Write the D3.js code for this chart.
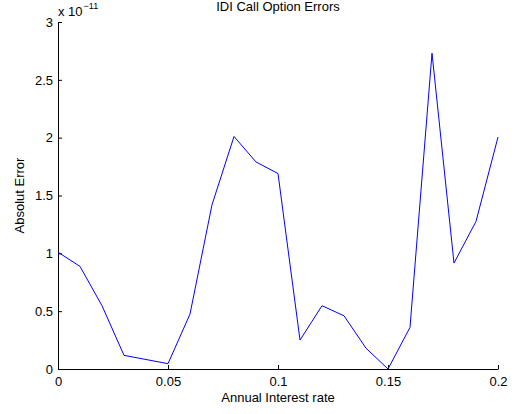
<!DOCTYPE html>
<html>
<head>
<meta charset="utf-8">
<script src="https://cdn.jsdelivr.net/npm/d3@7"></script>
<style>
  body { margin: 0; background: #fff; }
  text { font-family: "Liberation Sans", Arial, sans-serif; fill: #000; }
</style>
</head>
<body>
<script>
// interest rates and absolute errors (units of 1e-11)
const rates = [0, 0.01, 0.02, 0.03, 0.04, 0.05, 0.06, 0.07, 0.08, 0.09, 0.1,
               0.11, 0.12, 0.13, 0.14, 0.15, 0.16, 0.17, 0.18, 0.19, 0.2];
const errors = [1.01, 0.887, 0.547, 0.118, 0.082, 0.046, 0.475, 1.42, 2.01, 1.79, 1.69,
                0.25, 0.547, 0.46, 0.18, 0.0, 0.36, 2.73, 0.916, 1.276, 2.005];
const xTicks = [0, 0.05, 0.1, 0.15, 0.2];
const yTicks = [0, 0.5, 1, 1.5, 2, 2.5, 3];

const width = 516, height = 414;
const margin = {left: 58, right: 18, top: 22, bottom: 45};
const fs = 13;

const svg = d3.select("body").append("svg")
  .attr("width", width)
  .attr("height", height);

const x = d3.scaleLinear().domain([0, 0.2]).range([margin.left, width - margin.right]);
const y = d3.scaleLinear().domain([0, 3]).range([height - margin.bottom, margin.top]);

// x axis
const xAxis = svg.append("g")
  .attr("transform", `translate(0,${height - margin.bottom})`)
  .call(d3.axisBottom(x).tickValues(xTicks).tickSizeInner(-4).tickSizeOuter(0).tickPadding(8)
    .tickFormat(d => d3.format("")(d)));
xAxis.select(".domain").attr("stroke", "#000");
xAxis.selectAll("text").attr("font-size", fs);

// y axis
const yAxis = svg.append("g")
  .attr("transform", `translate(${margin.left},0)`)
  .call(d3.axisLeft(y).tickValues(yTicks).tickSizeInner(-4).tickSizeOuter(0).tickPadding(5)
    .tickFormat(d => d3.format("")(d)));
yAxis.select(".domain").attr("stroke", "#000");
yAxis.selectAll("text").attr("font-size", fs);

// series
const pts = rates.map((r, i) => [r, errors[i]]);
svg.append("path")
  .datum(pts)
  .attr("fill", "none")
  .attr("stroke", "#0000ff")
  .attr("stroke-width", 1)
  .attr("d", d3.line().x(d => x(d[0])).y(d => y(d[1])));

// exponent label
const expo = svg.append("text")
  .attr("x", margin.left)
  .attr("y", 16)
  .attr("font-size", fs);
expo.append("tspan").text("x 10");
expo.append("tspan").attr("dx", 1).attr("dy", -7).attr("font-size", 9).text("\u221211");

// title
svg.append("text")
  .attr("x", (margin.left + width - margin.right) / 2)
  .attr("y", 11)
  .attr("text-anchor", "middle")
  .attr("font-size", fs)
  .text("IDI Call Option Errors");

// axis labels
svg.append("text")
  .attr("x", (margin.left + width - margin.right) / 2)
  .attr("y", 402)
  .attr("text-anchor", "middle")
  .attr("font-size", fs)
  .text("Annual Interest rate");

svg.append("text")
  .attr("transform", `translate(24,${(margin.top + height - margin.bottom) / 2}) rotate(-90)`)
  .attr("text-anchor", "middle")
  .attr("font-size", fs)
  .text("Absolut Error");
</script>
</body>
</html>
